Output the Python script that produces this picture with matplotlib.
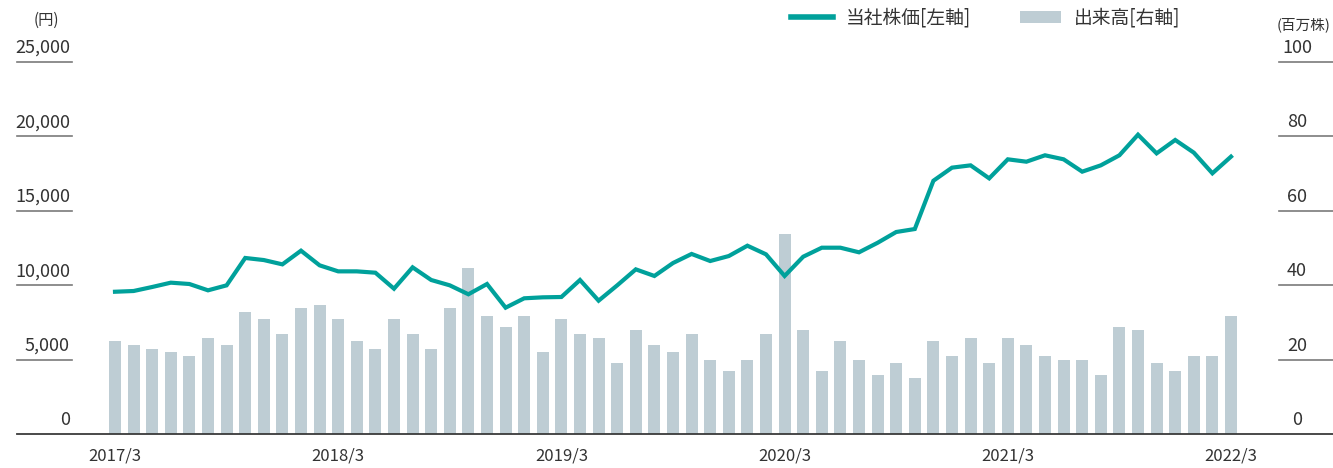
import numpy as np
import matplotlib
matplotlib.use("Agg")
import matplotlib.pyplot as plt
import matplotlib.transforms as mtransforms
from matplotlib.lines import Line2D
from matplotlib.patches import Patch

plt.rcParams['font.family'] = ['Noto Sans CJK JP', 'DejaVu Sans']

# Data ___________________________________________________________________________
# monthly, 2017/3 .. 2022/3 (61 months)
price = [9560, 9610, 9880, 10170, 10080, 9655, 9990, 11830, 11690, 11400,
         12320, 11335, 10930, 10930, 10840, 9765, 11200, 10350, 9990, 9390,
         10080, 8490, 9120, 9185, 9207, 10350, 8960, 9990, 11065, 10620,
         11490, 12100, 11625, 11960, 12655, 12075, 10620, 11915, 12520, 12520,
         12210, 12850, 13575, 13775, 17020, 17900, 18055, 17180, 18460, 18300,
         18730, 18460, 17630, 18055, 18730, 20115, 18860, 19760, 18910, 17520,
         18640]
volume = [25.0, 23.9, 22.8, 22.0, 21.0, 25.8, 23.9, 32.8, 30.9, 26.9,
          33.9, 34.7, 30.9, 25.0, 22.8, 30.9, 26.9, 22.8, 33.9, 44.6,
          31.7, 28.8, 31.7, 22.0, 30.9, 26.9, 25.8, 19.1, 28.0, 23.9,
          22.0, 26.9, 19.9, 16.9, 19.9, 26.9, 53.8, 28.0, 16.9, 25.0,
          19.9, 15.9, 19.1, 15.1, 25.0, 21.0, 25.8, 19.1, 25.8, 23.9,
          21.0, 19.9, 19.9, 15.9, 28.8, 28.0, 19.1, 16.9, 21.0, 21.0,
          31.7]
xlabels = ['2017/3', '2018/3', '2019/3', '2020/3', '2021/3', '2022/3']
left_ticks = [0, 5000, 10000, 15000, 20000, 25000]
right_ticks = [0, 20, 40, 60, 80, 100]

LINE_C = '#00A19B'
BAR_C = '#BECDD4'
TXT_C = '#333333'

x = np.arange(len(price))

fig = plt.figure(figsize=(13.33, 4.68), dpi=100)
W, H = 1333, 468
ax = fig.add_axes([17 / W, 34 / H, 1316 / W, 372 / H])
ax2 = ax.twinx()

# Volume bars (right axis)_______________________________________________________
ax2.bar(x, volume, width=0.64, color=BAR_C, zorder=1)
ax2.set_ylim(0, 100)

# Stock price line (left axis)___________________________________________________
ax.plot(x, price, color=LINE_C, lw=3.0, solid_joinstyle='miter', zorder=3)
ax.set_ylim(0, 25000)
ax.set_zorder(ax2.get_zorder() + 1)
ax.patch.set_visible(False)

xl = (0 - 98 / 18.6, 60 + 102 / 18.6)
ax.set_xlim(*xl)
ax2.set_xlim(*xl)

for a in (ax, ax2):
    for s in ('left', 'right', 'top'):
        a.spines[s].set_visible(False)
    a.set_yticks([])
    a.tick_params(axis='x', length=0)
ax2.spines['bottom'].set_visible(False)
ax.spines['bottom'].set_color('#3a3a3a')
ax.spines['bottom'].set_linewidth(1.3)

ax.set_xticks(x[::12])
ax.set_xticklabels(xlabels, fontsize=12, color=TXT_C)
ax.tick_params(axis='x', pad=10)

# y tick labels sitting above short lines__________________________________________
tl = mtransforms.blended_transform_factory(ax.transAxes, ax.transData)
tr = mtransforms.blended_transform_factory(ax2.transAxes, ax2.transData)
lx0, lx1 = 0, 55 / 1316
rx0, rx1 = (1279 - 17) / 1316, 1.0
up = mtransforms.ScaledTranslation(0, 5 / 100, fig.dpi_scale_trans)
for v in left_ticks[1:]:
    ax.plot([lx0, lx1], [v, v], transform=tl, color='#7a7a7a', lw=1.2, clip_on=False)
for v in left_ticks:
    ax.text(53 / 1316, v, f'{v:,}', transform=tl + up, ha='right', va='bottom',
            fontsize=13, color=TXT_C, clip_on=False)
for v in right_ticks[1:]:
    ax2.plot([rx0, rx1], [v, v], transform=tr, color='#7a7a7a', lw=1.2, clip_on=False)
for v in right_ticks:
    ax2.text((1297 - 17) / 1316, v, f'{v}', transform=tr + up, ha='center', va='bottom',
             fontsize=13, color=TXT_C, clip_on=False)

fig.text(46 / W, 1 - 20 / H, '(円)', ha='center', va='center', fontsize=11, color=TXT_C)
fig.text(1330 / W, 1 - 25 / H, '(百万株)', ha='right', va='center', fontsize=10.5, color=TXT_C)

# Legend__________________________________________________________________________
handles = [Line2D([], [], color=LINE_C, lw=4),
           Patch(facecolor=BAR_C, edgecolor='none')]
fig.legend(handles, ['当社株価[左軸]', '出来高[右軸]'], loc='center',
           bbox_to_anchor=(986 / W, 1 - 18 / H), ncol=2, frameon=False,
           fontsize=13.5, handlelength=2.2, handleheight=0.55, columnspacing=2.6,
           handletextpad=0.7, labelcolor=TXT_C)

fig.savefig('out.png', dpi=100)
